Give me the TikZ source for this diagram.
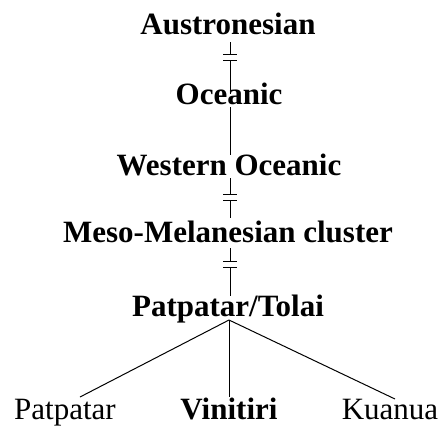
\documentclass[tikz,border=0pt]{standalone}
\usepackage{fontspec}
\setmainfont{Liberation Serif}
\usetikzlibrary{calc}
\tikzset{
  lbl/.style={anchor=base, inner sep=0pt, font=\bfseries\fontsize{31}{31}\selectfont},
  leaf/.style={anchor=base, inner sep=0pt, font=\fontsize{31}{31}\selectfont},
  link/.style={line width=1pt, black}
}
\begin{document}
\begin{tikzpicture}[x=1pt,y=-1pt]
\useasboundingbox (0,0) rectangle (443,426);
\node[lbl] (aus) at (228,34) {Austronesian};
\node[lbl] (oce) at (229,104) {Oceanic};
\node[lbl] (wes) at (229,175) {Western Oceanic};
\node[lbl] (mes) at (228,242) {Meso-Melanesian cluster};
\node[lbl] (pt) at (228,316) {Patpatar/Tolai};
\node[leaf] (pp) at (65,419) {Patpatar};
\node[lbl] (vin) at (229,419) {Vinitiri};
\node[leaf] (kua) at (390,419) {Kuanua};
\draw[link] ($(aus.base)+(2,8)$) -- ++(0,12) ++(-7,0) -- ++(14,0) ++(-14,6) -- ++(14,0) ++(-7,0) -- ($(oce.base)+(1,-10)$);
\draw[link] ($(oce.base)+(1,3)$) -- ($(wes.base)+(1,-20)$);
\draw[link] ($(wes.base)+(1,3)$) -- ++(0,16) ++(-7,0) -- ++(14,0) ++(-14,6) -- ++(14,0) ++(-7,0) -- ($(mes.base)+(2,-24)$);
\draw[link] ($(mes.base)+(2,6)$) -- ++(0,13) ++(-7,0) -- ++(14,0) ++(-14,6) -- ++(14,0) ++(-7,0) -- ($(pt.base)+(2,-20)$);
\coordinate (fork) at ($(pt.base)+(1,4)$);
\draw[link] (fork) -- ($(pp.base)+(15,-22)$);
\draw[link] (fork) -- ($(vin.base)+(0,-22)$);
\draw[link] (fork) -- ($(kua.base)+(5,-20)$);
\end{tikzpicture}
\end{document}
